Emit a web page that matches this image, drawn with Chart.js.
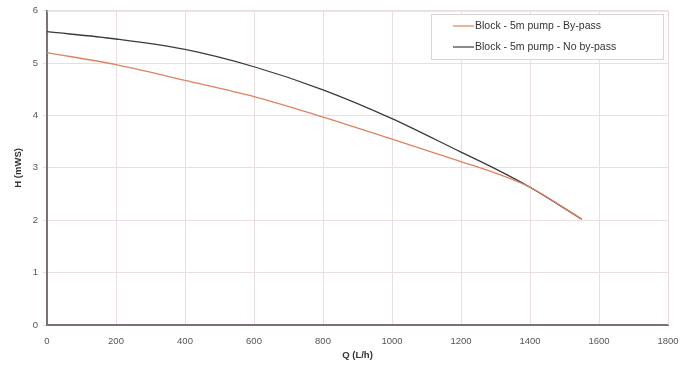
<!DOCTYPE html>
<html>
<head>
<meta charset="utf-8">
<script src="https://cdn.jsdelivr.net/npm/chart.js@4.4.0/dist/chart.umd.min.js"></script>
<style>
  html, body { margin: 0; padding: 0; background: #fff; }
  canvas { display: block; }
</style>
</head>
<body>
<canvas id="grafica" width="692" height="365"></canvas>
<script>
// ===== Datos =====
const caudales = [0, 200, 400, 600, 800, 1000, 1200, 1300, 1400, 1550];
const alturaBypass = [5.2, 4.97, 4.67, 4.36, 3.97, 3.55, 3.12, 2.9, 2.63, 2.02];
const alturaSinBypass = [5.6, 5.46, 5.26, 4.93, 4.49, 3.94, 3.3, 2.98, 2.63, 2.02];
const etiquetas = ["Block - 5m pump - By-pass", "Block - 5m pump - No by-pass"];
const ticksX = [0, 200, 400, 600, 800, 1000, 1200, 1400, 1600, 1800];
const ticksY = [0, 1, 2, 3, 4, 5, 6];

const colores = ["#de8262", "#3b3a3c"];
const fuente = "'Liberation Sans', Arial, sans-serif";

function puntos(ys) {
  return caudales.map((q, i) => ({ x: q, y: ys[i] }));
}

// ===== Leyenda con borde =====
const leyendaCaja = {
  id: "leyendaCaja",
  afterDraw(chart) {
    const ctx = chart.ctx;
    ctx.save();
    ctx.strokeStyle = "#dcd4d4";
    ctx.lineWidth = 1;
    ctx.fillStyle = "#fff";
    ctx.fillRect(431.5, 14.5, 232, 45);
    ctx.strokeRect(431.5, 14.5, 232, 45);
    ctx.font = "10.5px " + fuente;
    ctx.textBaseline = "middle";
    etiquetas.forEach((t, i) => {
      const y = 26 + i * 21;
      ctx.strokeStyle = colores[i];
      ctx.lineWidth = 1.2;
      ctx.beginPath();
      ctx.moveTo(453, y);
      ctx.lineTo(474, y);
      ctx.stroke();
      ctx.fillStyle = "#333";
      ctx.fillText(t, 475, y);
    });
    ctx.restore();
  }
};

// ===== Borde superior y derecho del área =====
const bordeArea = {
  id: "bordeArea",
  beforeDatasetsDraw(chart) {
    const a = chart.chartArea, ctx = chart.ctx;
    ctx.save();
    ctx.strokeStyle = "#e6dada";
    ctx.lineWidth = 1;
    ctx.beginPath();
    ctx.moveTo(a.left, a.top + 0.5);
    ctx.lineTo(a.right + 0.5, a.top + 0.5);
    ctx.lineTo(a.right + 0.5, a.bottom);
    ctx.stroke();
    ctx.restore();
  }
};

// ===== Gráfica =====
new Chart(document.getElementById("grafica"), {
  type: "line",
  data: {
    datasets: [
      {
        label: etiquetas[0],
        data: puntos(alturaBypass),
        borderColor: colores[0],
        borderWidth: 1.3,
        pointRadius: 0,
        cubicInterpolationMode: "monotone",
        fill: false
      },
      {
        label: etiquetas[1],
        data: puntos(alturaSinBypass),
        borderColor: colores[1],
        borderWidth: 1.3,
        pointRadius: 0,
        cubicInterpolationMode: "monotone",
        fill: false
      }
    ]
  },
  options: {
    responsive: false,
    animation: false,
    layout: { padding: { top: 10, right: 24, left: 0, bottom: 0 } },
    plugins: {
      legend: { display: false },
      tooltip: { enabled: false }
    },
    scales: {
      x: {
        type: "linear",
        min: 0,
        max: 1800,
        afterBuildTicks: s => { s.ticks = ticksX.map(v => ({ value: v })); },
        afterFit: s => { s.height = 40; },
        border: { color: "#7d7070", width: 2 },
        grid: { color: "#eadfdf", drawTicks: false },
        ticks: {
          color: "#555",
          padding: 11,
          maxRotation: 0,
          autoSkip: false,
          callback: v => String(v),
          font: { size: 9.5, family: fuente }
        },
        title: {
          display: true,
          text: "Q (L/h)",
          color: "#333",
          padding: { top: 3 },
          font: { size: 9.5, weight: "bold", family: fuente }
        }
      },
      y: {
        min: 0,
        max: 6,
        afterBuildTicks: s => { s.ticks = ticksY.map(v => ({ value: v })); },
        afterFit: s => { s.width = 47; },
        border: { color: "#7d7070", width: 2 },
        grid: { color: "#eadfdf", drawTicks: true, tickLength: 4 },
        ticks: {
          color: "#555",
          padding: 5,
          callback: v => String(v),
          font: { size: 9.5, family: fuente }
        },
        title: {
          display: true,
          text: "H (mWS)",
          color: "#333",
          padding: { top: 13, bottom: 4 },
          font: { size: 9.5, weight: "bold", family: fuente }
        }
      }
    }
  },
  plugins: [bordeArea, leyendaCaja]
});
</script>
</body>
</html>
